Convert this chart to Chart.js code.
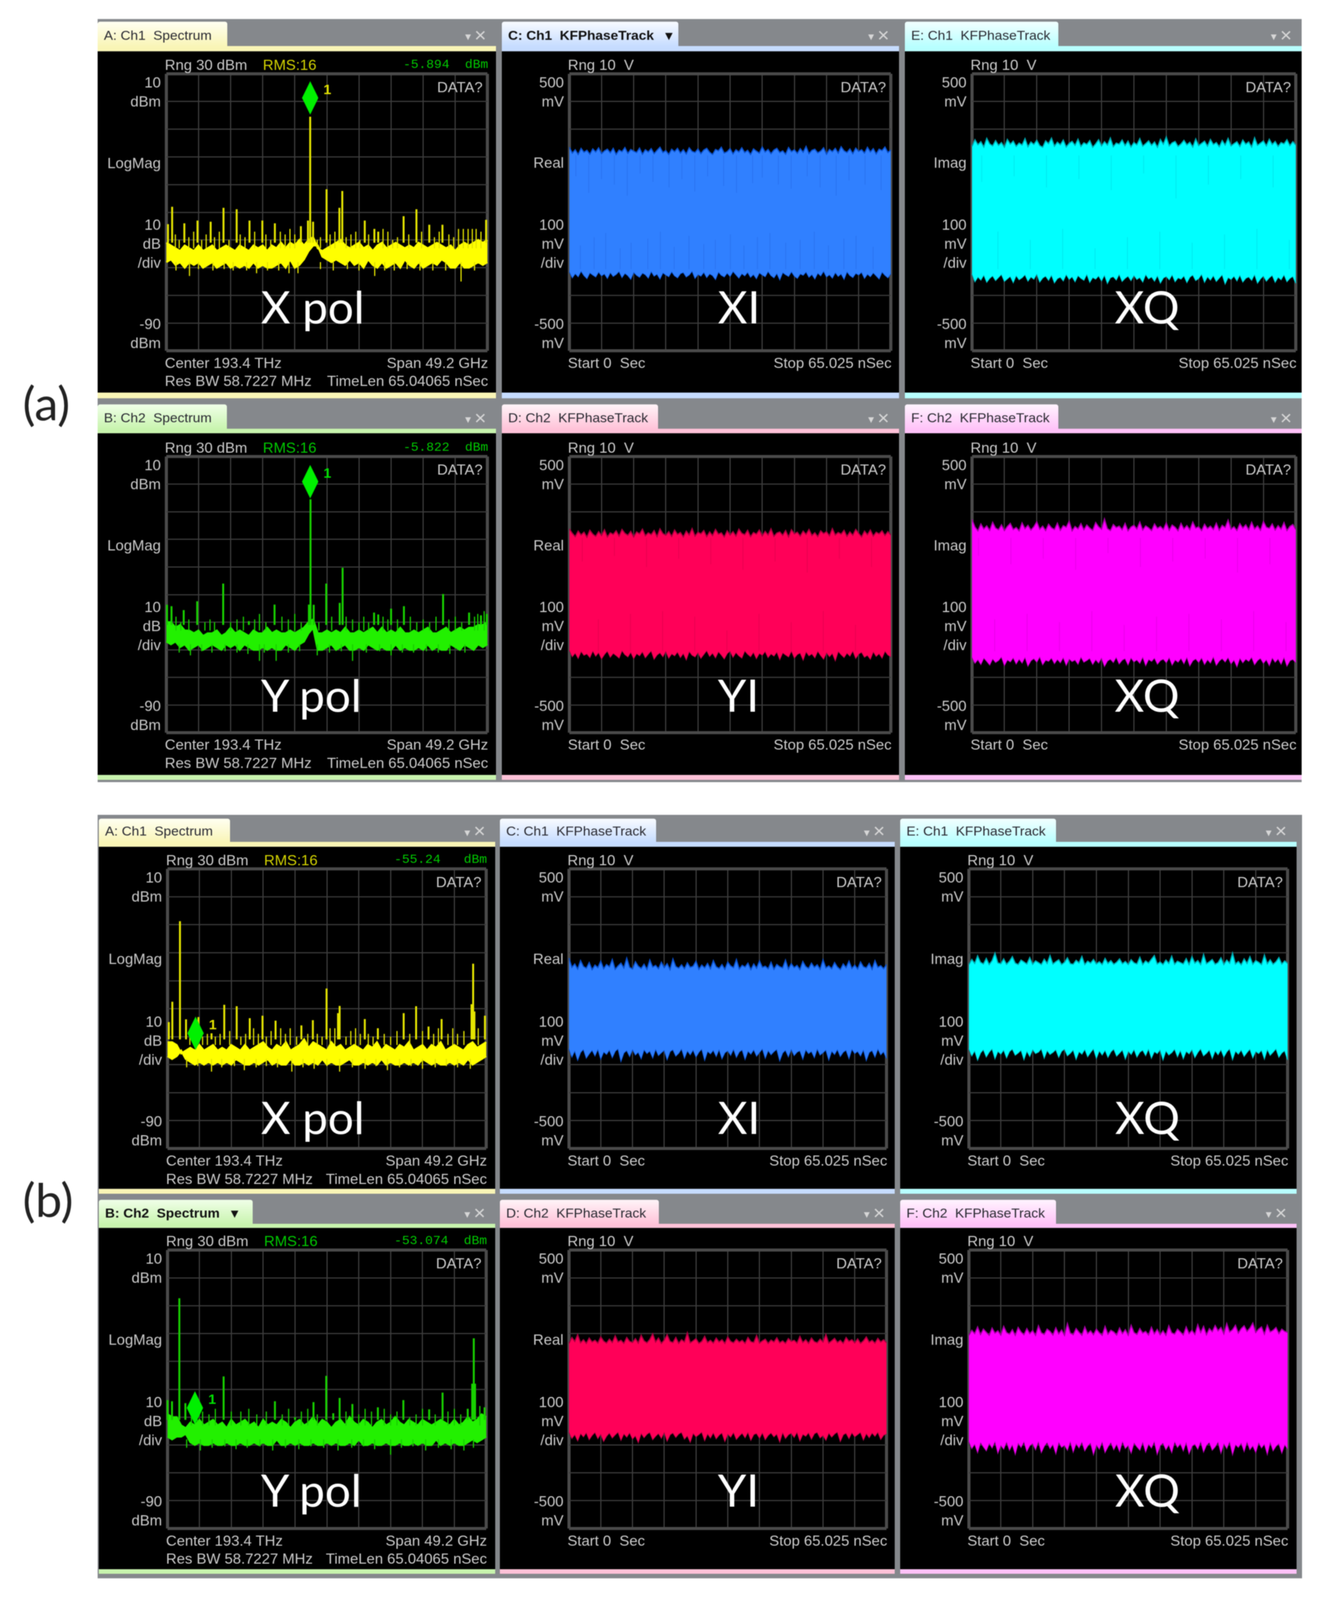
<!DOCTYPE html>
<html>
<head>
<meta charset="utf-8">
<script src="https://cdn.jsdelivr.net/npm/chart.js@4"></script>
<style>
html, body { margin: 0; padding: 0; background: #fff; overflow: hidden; }
#stage { position: relative; width: 3380px; height: 4206px; overflow: hidden; filter: blur(1.1px); font-family: "Liberation Sans", sans-serif; transform-origin: 0 0; }
#stage div, #stage span, #stage canvas { position: absolute; }
.t { white-space: pre; line-height: 1; transform: translateY(-50%); color: #c9c9c9; font-size: 38px; }
.r { transform: translate(-100%, -50%); }
.big { color: #fff; font-family: Lato, sans-serif; font-size: 117px; }
.tab { border-radius: 6px 6px 0 0; }
</style>
</head>
<body>
<div id="stage"></div>
<script>
// ---- spectrum traces, dBm: noise band edges, spikes, grass on top of the band, dips under it
const specAaHi = [-51,-52,-53,-54,-52,-53,-54,-52,-54,-53,-52,-54,-53,-52,-53,-54,-52,-53,-54,-52,-53,-52,-54,-52,-53,-51,-53,-51,-52,-50,-52,-50,-49,-53,-54,-53,-52,-51,-50,-52,-53,-52,-51,-53,-52,-54,-52,-51,-53,-52,-51,-52,-53,-52,-53,-51,-52,-53,-52,-51,-52,-53,-52,-54,-52,-51,-52,-51,-50,-51,-50];
const specAaLo = [-58,-57,-59,-58,-60,-58,-59,-58,-60,-59,-58,-60,-59,-58,-60,-59,-60,-59,-60,-58,-60,-59,-60,-60,-59,-58,-60,-57,-60,-59,-57,-54,-52,-52,-56,-57,-58,-57,-58,-59,-57,-59,-58,-60,-57,-59,-60,-58,-60,-59,-58,-60,-57,-59,-60,-58,-60,-59,-58,-59,-57,-58,-60,-60,-58,-60,-60,-59,-58,-59,-58];
const specAaPeakX = [0.5,1.8,5.6,9.7,13.8,17.8,21.9,25.9,29.9,33.8,41.9,44.1,44.8,45.7,49.9,53.9,54.8,61.8,64.8,66,73.9,77.9,81.9,86,99.6];
const specAaPeakY = [-44.3,-38,-44,-43,-43.4,-38.4,-38.9,-43,-43,-44,-45,-43,-5.5,-43.4,-31.7,-38.4,-32.3,-43,-46,-47,-41.4,-38.9,-44.5,-44.5,-42.7];
const specAaGrassX = [2.8,4,7,8.5,11,12.4,15,16.5,19.5,23,24.5,27.5,31,32.5,35.5,37,38.5,40,47,48,51,52.5,56,57.5,59,60.3,63,67.5,69,70.5,72,75.5,79.5,83.5,85,88,89.5,91,92.5,94,95.3,96.5,98];
const specAaGrassY = [-48,-50,-49,-47,-50,-48,-49,-47,-50,-48,-49,-47,-48,-50,-47,-48,-46,-48,-50,-49,-48,-47,-49,-48,-47,-50,-48,-46,-47,-50,-49,-48,-47,-49,-47,-48,-49,-46,-46,-46,-46,-46,-47];
const specAaDipX = [3,7.2,10,14.5,18,20.8,25,28.1,31.5,35,38.2,41,48,52,56.4,60,64.9,68,71,75,79,83,87,91.8,96];
const specAaDipY = [-61,-63,-60.5,-61,-60.5,-61,-61,-62,-61,-61,-62,-62,-60.5,-61,-60.5,-61,-63,-61,-61,-60.5,-61,-61,-61,-65,-61];

const specBaHi = [-50,-50,-52,-51,-53,-53,-54,-53,-55,-54,-54,-53,-55,-54,-52,-54,-53,-54,-55,-53,-54,-54,-52,-54,-53,-54,-54,-53,-54,-53,-52,-50,-49,-54,-54,-53,-54,-53,-54,-52,-54,-54,-53,-54,-53,-52,-54,-52,-54,-53,-54,-52,-54,-54,-53,-54,-53,-52,-54,-54,-53,-52,-54,-53,-52,-53,-52,-52,-51,-51,-50];
const specBaLo = [-57,-58,-57,-59,-58,-60,-59,-58,-60,-59,-58,-59,-60,-58,-59,-58,-60,-58,-59,-60,-60,-59,-60,-59,-60,-60,-58,-59,-60,-58,-57,-54,-52,-60,-60,-59,-58,-60,-59,-58,-60,-60,-59,-60,-58,-59,-60,-59,-60,-60,-58,-60,-59,-60,-60,-59,-60,-58,-60,-59,-60,-60,-58,-59,-60,-58,-59,-60,-58,-59,-58];
const specBaPeakX = [0.2,1.6,5.4,9.6,17.7,25.7,33.7,44.4,44.9,45.9,49.8,54,54.9,64.7,66,70,74,86.2,94.3,98,99.8];
const specBaPeakY = [-43.7,-44.2,-45.6,-42.4,-36,-49.6,-43.6,-43.6,-5.5,-43.7,-36,-43,-30.3,-46.5,-47.2,-45.1,-44.2,-39.8,-46.5,-47.5,-47];
const specBaGrassX = [3,4.5,7,12,13.6,15,20,22,24,27.5,29,31,36,38,40,42,47.5,51.5,56,58,60,61.5,63,67.5,69,72,76,78,80,82,84,88,90,92,96,97,99];
const specBaGrassY = [-48,-50,-49,-50,-49,-50,-50,-49,-48,-49,-47,-50,-48,-49,-47,-50,-50,-48,-48,-49,-50,-48,-50,-48,-49,-49,-48,-50,-49,-50,-48,-49,-48,-50,-48,-47,-46];
const specBaDipX = [4,7.5,11,14.2,18.3,22,25.4,29,30.5,34.2,38,41.5,47,50.8,54.5,58,62.3,66.4,70,73.5,77,81,84.7,88.3,93];
const specBaDipY = [-61,-62,-60.5,-61,-60.5,-61,-61.5,-64,-61,-64,-61,-60.5,-62,-61,-60.5,-64,-61,-60.5,-62,-61,-61,-60.5,-61,-61.5,-61];

const specAbHi = [-52,-52,-53,-56,-55,-54,-55,-53,-55,-54,-53,-55,-54,-55,-53,-54,-55,-53,-55,-54,-53,-52,-54,-55,-53,-54,-52,-55,-54,-53,-51,-54,-52,-53,-54,-55,-52,-54,-53,-55,-54,-53,-54,-55,-53,-54,-52,-55,-53,-54,-55,-53,-54,-52,-55,-54,-53,-55,-53,-54,-52,-55,-54,-53,-54,-55,-53,-52,-54,-53,-52];
const specAbLo = [-57,-58,-57,-55,-58,-59,-60,-59,-60,-59,-60,-59,-60,-59,-60,-58,-59,-60,-60,-59,-60,-59,-58,-60,-59,-60,-60,-58,-60,-60,-59,-60,-59,-60,-58,-60,-59,-60,-60,-59,-58,-60,-60,-59,-60,-59,-60,-58,-60,-59,-60,-60,-59,-60,-59,-60,-58,-59,-60,-59,-60,-60,-59,-60,-59,-60,-58,-60,-59,-58,-57];
const specAbPeakX = [0.4,1.5,3.9,5.8,9.7,13.8,17.8,21.7,25.8,29.8,33.9,42,45.6,49.9,53.5,54,61.9,66,74.1,78,81.9,86,95.4,95.9,96.3,99.6];
const specAbPeakY = [-44.8,-37.5,-8.7,-43.8,-43,-48.8,-38.6,-39.1,-43.4,-42.5,-44.3,-46,-44.1,-32.8,-41.6,-39,-43.7,-47,-41.6,-39.1,-46.4,-43.7,-38.4,-23.9,-41,-42.5];
const specAbGrassX = [7,8.2,11,12.5,15,16.5,19.5,23,24.5,27,28.5,31,32.5,35.5,37,38.5,40.5,44,47,48.5,51,52.5,56,57.5,59,60.5,63,64.5,68,70,72,76,80,83.5,85,88,89.5,91,93,97.5];
const specAbGrassY = [-50,-48,-50,-49,-50,-49,-48,-50,-49,-47,-49,-50,-48,-47,-49,-47,-50,-49,-49,-50,-47,-47,-50,-48,-47,-49,-49,-50,-49,-50,-48,-49,-48,-49,-47,-49,-47,-49,-48,-47];
const specAbDipX = [6,9.5,13.8,17,21,24.1,27.8,31,34.5,39,42.5,46,50,54,58,62,65.4,69,72.8,76.4,80,84,87.5,91,95];
const specAbDipY = [-61,-60.5,-62.5,-61,-60.5,-62,-61,-60.5,-61,-62.5,-61,-61.5,-60.5,-62.5,-61,-61.5,-60.5,-62,-61,-60.5,-61.5,-61,-60.5,-61,-61.5];

const specBbHi = [-49,-50,-50,-53,-54,-52,-53,-51,-53,-52,-51,-53,-52,-54,-51,-53,-52,-51,-53,-52,-54,-51,-53,-52,-53,-51,-52,-54,-52,-51,-53,-52,-50,-53,-51,-52,-54,-52,-51,-53,-50,-52,-53,-51,-52,-54,-52,-51,-53,-52,-50,-52,-53,-51,-52,-53,-51,-52,-53,-52,-51,-52,-53,-51,-53,-52,-50,-52,-51,-49,-50];
const specBbLo = [-57,-58,-57,-57,-56,-59,-60,-59,-60,-60,-59,-60,-60,-59,-60,-60,-59,-60,-60,-59,-60,-59,-60,-60,-58,-60,-60,-59,-60,-59,-60,-60,-59,-60,-60,-59,-60,-59,-60,-60,-59,-60,-58,-60,-60,-59,-60,-60,-59,-60,-60,-59,-60,-60,-59,-60,-59,-60,-60,-58,-60,-59,-60,-59,-60,-60,-59,-58,-59,-58,-57];
const specBbPeakX = [0,1.4,3.7,5.6,9.5,17.6,33.7,40,45.8,49.8,52,54,58,66,74,82.1,86.3,94.2,95.6,96.1,96.5,99.5];
const specBbPeakY = [-43.9,-44.3,-7.3,-45,-51.4,-35.4,-44.3,-50,-44.6,-35.2,-48.6,-43.1,-45.3,-46.5,-43.9,-47.2,-41.2,-47,-38,-21.7,-38,-46.5];
const specBbGrassX = [7.5,11,13,15,20,23,25.5,28,31,36,38,42,44,47,56,60,62,64,68,70,72,76,78,80,84,88,90,92,98];
const specBbGrassY = [-50,-48,-49,-47,-48,-48,-47,-49,-48,-49,-47,-48,-47,-49,-48,-49,-47,-48,-47,-49,-48,-50,-49,-47,-49,-48,-47,-49,-46];
const specBbDipX = [6,10.3,14,18,21.5,25,29,33,37,41.2,45,49,53.5,57.8,61.5,65,70,73.4,77,81,85,89,93,96];
const specBbDipY = [-61,-62,-61,-60.5,-61.5,-61,-60.5,-62,-61,-61.5,-60.5,-61,-62,-61,-60.5,-61.5,-63.5,-61,-60.5,-62,-61,-61.5,-62,-61];

// ---- time traces, mV: upper and lower edge of the filled envelope
const xiAHi = [235,214,226,209,231,217,224,210,229,218,233,212,222,228,215,231,209,225,219,234,213,227,221,216,232,210,226,218,230,212,224,235,216,223,209,228,219,231,214,226,211,233,220,216,229,212,225,231,217,209,227,222,235,214,219,230,211,226,218,233,216,224,209,229,221,214,236,218,227,212,225,231,216,222,210,234,219,226,213,230,217,238,212,224,228,215,221,233,210,227,219,231,214,237,222,216,229,212,232,220,226,214,235,218,230,211,228,223,236,216,225];
const xiALo = [-214,-236,-221,-232,-212,-228,-239,-218,-226,-233,-215,-229,-222,-238,-217,-231,-224,-213,-235,-220,-228,-241,-216,-227,-234,-219,-225,-237,-213,-230,-223,-240,-218,-226,-232,-214,-229,-236,-221,-217,-233,-226,-212,-238,-224,-230,-216,-235,-222,-228,-242,-215,-227,-233,-219,-231,-213,-225,-237,-221,-229,-216,-234,-224,-239,-218,-226,-232,-213,-228,-236,-220,-243,-217,-225,-231,-214,-230,-238,-222,-227,-215,-234,-224,-240,-219,-229,-212,-233,-225,-237,-217,-231,-222,-241,-214,-228,-235,-220,-226,-216,-238,-223,-232,-218,-229,-240,-215,-227,-236,-221];
const xqAHi = [238,262,244,255,236,267,247,240,259,242,252,235,263,246,257,238,250,243,266,237,254,245,260,241,235,258,248,268,239,253,244,261,236,249,256,242,264,238,251,245,259,235,247,262,240,255,243,268,237,250,246,261,241,257,236,252,244,266,239,248,258,242,254,235,263,246,272,240,251,256,238,247,260,244,253,236,265,241,249,257,239,263,245,252,237,259,243,267,240,248,255,238,261,246,254,236,269,242,250,258,240,264,245,256,238,252,247,262,241,255,243];
const xqALo = [-222,-250,-233,-244,-226,-252,-238,-229,-246,-235,-224,-249,-240,-231,-253,-228,-243,-236,-225,-248,-233,-241,-222,-251,-237,-230,-245,-226,-254,-239,-234,-247,-224,-242,-232,-250,-228,-238,-245,-223,-252,-235,-241,-229,-247,-226,-256,-236,-232,-244,-223,-249,-238,-230,-246,-227,-242,-235,-251,-224,-240,-233,-248,-228,-255,-237,-231,-243,-225,-250,-236,-241,-229,-253,-234,-226,-246,-239,-223,-252,-232,-244,-228,-249,-237,-225,-258,-235,-242,-230,-247,-226,-251,-238,-233,-245,-224,-255,-240,-229,-248,-236,-227,-252,-234,-243,-225,-250,-238,-231,-256];
const yiAHi = [238,222,210,230,216,226,208,233,219,211,228,214,235,209,224,218,231,212,236,222,215,229,209,227,220,237,213,224,217,232,210,238,221,215,228,211,234,218,225,209,230,216,239,212,226,220,232,210,227,214,236,219,224,209,231,216,228,212,237,222,217,233,210,225,219,234,213,229,216,238,211,223,227,215,232,209,235,220,226,212,230,218,236,214,224,210,231,221,228,213,239,216,225,219,233,211,227,215,236,222,209,230,217,234,212,226,220,231,214,228,216];
const yiALo = [-201,-224,-211,-230,-205,-219,-214,-227,-203,-222,-209,-232,-216,-204,-226,-212,-220,-229,-202,-217,-225,-208,-231,-213,-221,-206,-228,-215,-203,-233,-218,-210,-224,-204,-229,-214,-221,-207,-227,-212,-235,-205,-219,-225,-209,-230,-216,-202,-223,-211,-228,-206,-218,-232,-213,-204,-226,-209,-221,-229,-203,-215,-224,-208,-231,-212,-219,-205,-227,-214,-222,-207,-234,-210,-218,-225,-203,-229,-216,-211,-236,-206,-221,-214,-228,-204,-220,-233,-209,-224,-212,-238,-205,-217,-227,-211,-222,-203,-230,-215,-208,-226,-219,-233,-206,-223,-213,-229,-204,-218,-225];
const xqBHi = [272,245,231,256,238,249,233,262,241,235,253,232,247,258,236,243,231,260,239,251,234,246,264,237,248,232,255,242,236,259,233,250,244,266,231,247,238,257,235,252,241,233,261,246,237,274,239,232,254,243,248,235,258,231,245,251,238,263,234,249,242,232,256,240,247,236,260,233,252,244,231,258,238,250,235,263,241,246,232,255,239,248,236,259,233,251,243,270,237,246,232,257,241,253,235,262,238,249,233,265,244,240,256,234,250,237,261,232,247,254,236];
const xqBLo = [-226,-248,-235,-252,-229,-241,-254,-232,-245,-238,-225,-256,-236,-243,-228,-250,-233,-247,-226,-258,-239,-231,-244,-224,-253,-237,-241,-229,-249,-234,-246,-227,-255,-232,-242,-236,-251,-225,-244,-238,-230,-252,-235,-247,-228,-259,-240,-233,-245,-226,-250,-237,-231,-253,-228,-243,-236,-248,-225,-256,-234,-241,-229,-251,-238,-233,-246,-227,-254,-236,-244,-230,-249,-226,-257,-239,-232,-245,-228,-252,-235,-247,-224,-255,-240,-231,-243,-227,-250,-236,-260,-229,-246,-233,-241,-226,-253,-238,-230,-248,-235,-256,-228,-244,-232,-251,-226,-258,-239,-234,-246];

const xiBHi = [181,148,160,142,172,151,145,165,140,156,147,170,143,158,150,176,141,153,163,146,181,148,142,168,152,144,159,141,174,149,155,143,166,147,161,140,178,151,145,157,143,164,148,152,170,141,156,146,162,143,172,150,144,158,141,167,153,147,176,142,155,149,163,140,160,145,171,148,152,143,166,141,158,150,146,174,142,161,147,155,140,169,151,144,163,148,157,141,175,146,153,143,165,149,140,160,147,170,144,156,142,167,150,146,162,141,172,148,154,143,158];
const xiBLo = [-143,-172,-150,-183,-156,-145,-176,-161,-148,-168,-144,-179,-154,-163,-147,-174,-152,-143,-187,-158,-149,-170,-145,-165,-155,-178,-146,-160,-151,-175,-144,-167,-157,-148,-181,-153,-146,-169,-159,-143,-176,-150,-164,-147,-172,-155,-144,-183,-152,-161,-148,-170,-145,-178,-157,-150,-166,-144,-173,-154,-147,-180,-151,-162,-146,-169,-156,-143,-176,-149,-164,-153,-145,-185,-158,-148,-171,-144,-167,-155,-150,-179,-146,-160,-152,-174,-143,-165,-157,-147,-182,-151,-163,-145,-170,-155,-148,-177,-144,-160,-152,-168,-146,-184,-156,-149,-172,-143,-164,-153,-178];
const xqCHi = [158,176,162,189,166,160,180,158,172,199,164,161,178,159,170,186,163,158,174,167,160,183,159,171,165,158,177,162,190,160,168,175,158,166,182,161,159,173,164,187,158,170,163,176,160,168,158,180,162,172,159,166,178,161,169,158,175,164,160,184,158,171,163,177,190,160,167,158,174,162,188,159,170,165,160,179,158,186,163,172,158,194,161,168,176,159,165,182,158,174,163,199,160,169,157,178,162,186,159,172,166,158,192,161,175,159,168,183,160,171,162];
const xqCLo = [-143,-168,-150,-183,-158,-146,-172,-155,-143,-178,-152,-162,-147,-175,-153,-144,-166,-158,-148,-181,-151,-170,-145,-160,-155,-143,-176,-149,-163,-156,-146,-173,-152,-144,-168,-159,-147,-180,-153,-162,-145,-171,-156,-143,-177,-150,-165,-148,-173,-154,-144,-169,-158,-147,-179,-151,-163,-145,-172,-155,-148,-167,-143,-176,-153,-160,-146,-182,-150,-165,-157,-144,-171,-148,-178,-152,-161,-145,-174,-156,-143,-168,-159,-147,-177,-150,-164,-146,-172,-154,-143,-181,-151,-162,-147,-170,-156,-144,-175,-152,-160,-148,-179,-145,-166,-155,-143,-173,-158,-150,-183];
const yiBHi = [165,186,172,196,167,178,165,184,170,176,166,188,173,166,180,168,192,170,176,165,186,172,168,182,166,194,174,167,179,199,170,184,165,177,196,172,168,186,165,178,170,203,167,174,182,165,172,190,168,176,166,184,170,178,165,188,172,167,180,169,176,165,186,171,168,193,166,174,180,165,177,170,185,167,174,165,182,172,176,166,190,168,178,165,184,171,167,180,170,197,166,174,183,168,176,165,186,172,178,167,181,165,174,188,169,176,166,183,170,178,167];
const yiBLo = [-153,-176,-162,-184,-158,-170,-155,-180,-165,-154,-176,-160,-186,-168,-156,-174,-163,-153,-182,-159,-171,-155,-178,-166,-190,-157,-173,-161,-154,-180,-168,-158,-175,-153,-185,-163,-156,-172,-160,-154,-178,-166,-189,-157,-170,-162,-153,-183,-159,-174,-155,-177,-164,-156,-186,-160,-171,-154,-179,-167,-157,-173,-153,-182,-162,-158,-175,-155,-180,-165,-156,-170,-160,-188,-154,-176,-163,-157,-172,-153,-184,-161,-168,-155,-178,-159,-154,-174,-165,-182,-156,-171,-160,-153,-186,-163,-157,-176,-155,-170,-162,-154,-181,-158,-173,-156,-168,-153,-179,-164,-160];
const xqDHi = [194,212,200,224,197,216,205,194,220,202,210,195,226,204,198,214,194,222,206,196,218,200,211,194,228,203,197,216,208,195,221,199,213,194,236,202,196,218,205,194,224,200,210,196,216,203,194,226,198,212,206,195,220,200,214,194,230,204,197,218,202,208,195,223,199,215,196,210,194,228,203,198,216,206,195,224,200,212,197,232,204,226,196,218,207,229,210,222,199,236,206,214,230,202,218,228,208,220,238,204,216,224,198,230,206,212,222,200,216,208,204];
const xqDLo = [-186,-212,-196,-226,-190,-206,-220,-193,-210,-186,-228,-200,-214,-188,-218,-198,-232,-192,-208,-187,-222,-202,-194,-216,-186,-226,-204,-190,-212,-197,-230,-189,-208,-200,-218,-186,-224,-194,-210,-188,-220,-203,-192,-233,-198,-214,-187,-226,-206,-190,-216,-196,-222,-186,-212,-200,-228,-191,-206,-218,-188,-224,-196,-210,-186,-232,-202,-192,-216,-198,-226,-187,-208,-194,-220,-189,-230,-204,-196,-214,-186,-224,-200,-190,-218,-206,-188,-228,-194,-212,-186,-233,-198,-208,-192,-222,-187,-216,-202,-226,-190,-210,-196,-232,-188,-220,-204,-194,-228,-198,-214];

// ---- darker streaks running into the top row's bands: position and how far in they reach
const xiAStreakX = [2,3.4,6,7.7,10,11.3,14,15.8,18,19.2,22,24.4,26,28.3,31,32.6,35,37.2,39,41.8,43,45.4,48,50.1,52,54.3,57,58.5,60,62.4,65,67.3,69,71.8,74,76.2,78,80.6,83,85.4,87,89.2,92,94.5,97];
const xiAStreakY = [130,-120,70,-90,120,-75,100,-130,60,-110,140,-95,110,-70,90,-125,120,-85,75,-115,130,-100,95,-80,70,-120,105,-90,125,-75,100,-110,85,-100,130,-70,90,-120,60,-95,115,-85,100,-125,80];
const xqAStreakX = [3,8,13,18,23,28,33,38,43,48,53,58,63,68,73,78,83,88,93,98];
const xqAStreakY = [110,-70,130,-100,90,-60,120,-130,80,-90,140,-70,50,-110,100,-80,120,-60,90,-100];
const yiAStreakX = [4,9,14,19,24,29,34,39,44,49,54,59,64,69,74,79,84,89,94];
const yiAStreakY = [120,-90,140,-70,100,-60,130,-80,110,-130,90,-70,120,-100,80,-60,130,-110,100];
const xqBStreakX = [2,7,12,17,22,27,32,37,42,47,52,57,62,67,72,77,82,87,92,97];
const xqBStreakY = [140,-90,110,-70,130,-100,90,-60,150,-110,100,-80,120,-70,130,-90,80,-60,110,-100];

// ---- axis tick positions and labels
const specTickVals = [3.1, -22.6, -51.8, -84.1];
const specTickLabels = [['10', 'dBm'], ['LogMag'], ['10', 'dB', '/div'], ['-90', 'dBm']];
const timeTickVals = [431, 174.5, -118, -441];
const realTickLabels = [['500', 'mV'], ['Real'], ['100', 'mV', '/div'], ['-500', 'mV']];
const imagTickLabels = [['500', 'mV'], ['Imag'], ['100', 'mV', '/div'], ['-500', 'mV']];

// ---- marker positions
const markerX = { Aa: 44.8, Ba: 44.8, Ab: 8.8, Bb: 8.6 };
const markerY = { Aa: 1.3, Ba: 0.9, Ab: -48.8, Bb: -46.7 };

// ---- window geometry (page pixels)
const rows = {
    a1: { tab: 57, strip: 121, black: 135, top: 194, bottom: 922, end: 1032, foot: 1047, big: 806 },
    a2: { tab: 1063, strip: 1127, black: 1139, top: 1200, bottom: 1926, end: 2037, foot: 2050, big: 1826 },
    b1: { tab: 2152, strip: 2213, black: 2226, top: 2284, bottom: 3019, end: 3125, foot: 3138, big: 2936 },
    b2: { tab: 3154, strip: 3217, black: 3228, top: 3286, bottom: 4018, end: 4125, foot: 4137, big: 3916 }
};
const cols = {
    a1: { l: 250, r: 1270, pl: 426, pr: 1248, big: 668 },
    a2: { l: 1285, r: 2302, pl: 1458, pr: 2281, big: 1838 },
    a3: { l: 2317, r: 3333, pl: 2489, pr: 3318, big: 2854 },
    b1: { l: 253, r: 1268, pl: 429, pr: 1245, big: 668 },
    b2: { l: 1280, r: 2291, pl: 1457, pr: 2270, big: 1838 },
    b3: { l: 2305, r: 3320, pl: 2481, pr: 3297, big: 2855 }
};

const palette = {
    A: { tabTop: '#fffff2', tint: '#f9f5b6' },
    B: { tabTop: '#f0ffe8', tint: '#c8f4ae' },
    C: { tabTop: '#f8fbff', tint: '#c6dcff' },
    D: { tabTop: '#fff4f8', tint: '#ffc2d8' },
    E: { tabTop: '#f2ffff', tint: '#b8ffff' },
    F: { tabTop: '#fff4ff', tint: '#ffc2f8' }
};

const stage = document.getElementById('stage');
// the photographed viewport can be shorter than the window, keep the whole figure inside it
const fitY = window.innerHeight / 4206, fitX = window.innerWidth / 3380;
stage.style.transform = `scale(${fitX}, ${fitY})`;

function box(x, y, w, h, bg, cls) {
    const d = document.createElement('div');
    d.style.cssText = `left:${x}px;top:${y}px;width:${w}px;height:${h}px;background:${bg}`;
    if (cls) d.className = cls;
    stage.appendChild(d);
    return d;
}

function text(x, y, str, extra, cls) {
    const s = document.createElement('span');
    s.className = 't ' + (cls || '');
    s.textContent = str;
    s.style.cssText = `left:${x}px;top:${y}px;` + (extra || '');
    stage.appendChild(s);
    return s;
}

function band(hi, lo, color, edge, width) {
    const toPts = arr => arr.map((v, i) => ({ x: i / (arr.length - 1) * 100, y: v }));
    return [
        { data: toPts(hi), borderColor: edge, borderWidth: width, backgroundColor: color, fill: '+1', pointRadius: 0, tension: 0, clip: false },
        { data: toPts(lo), borderColor: edge, borderWidth: width, fill: false, pointRadius: 0, tension: 0, clip: false }
    ];
}

function spikes(xs, ys, from, color, width) {
    const pts = xs.flatMap((x, i) => [{ x, y: from(ys[i]) }, { x, y: ys[i] }, { x, y: null }]);
    return { data: pts, borderColor: color, borderWidth: width, pointRadius: 0, tension: 0, spanGaps: false, clip: false };
}

function diamondImage() {
    const c = document.createElement('canvas');
    c.width = 42; c.height = 88;
    const g = c.getContext('2d');
    g.fillStyle = '#00f000';
    g.beginPath(); g.moveTo(21, 0); g.lineTo(42, 44); g.lineTo(21, 88); g.lineTo(0, 44); g.closePath(); g.fill();
    return c;
}

function scope(opt) {
    const R = rows[opt.row], C = cols[opt.col], P = palette[opt.id[0]];
    const W = C.r - C.l, labelW = 170;

    // window chrome
    box(C.l, R.strip, W, R.black - R.strip, P.tint);
    box(C.l, R.tab, opt.tabRight - C.l, R.strip - R.tab + 2, `linear-gradient(${P.tabTop}, ${P.tint})`, 'tab');
    box(C.l, R.end, W, R.foot - R.end, P.tint);
    box(C.l, R.black, W, R.end - R.black, '#000');
    text(C.l + 16, R.strip - 29, opt.title, 'color:#2b2b33;font-size:35px;' + (opt.active ? 'font-weight:bold;color:#111;' : ''));
    text(C.r - 25, R.strip - 29, '×', 'color:#d6d6d6;font-size:52px;', 'r');
    text(C.r - 64, R.strip - 25, '▾', 'color:#d6d6d6;font-size:30px;', 'r');

    const cv = document.createElement('canvas');
    cv.width = W; cv.height = R.end - R.black;
    cv.style.cssText = `left:${C.l}px;top:${R.black}px`;
    stage.appendChild(cv);

    const isSpec = opt.kind === 'spec';
    const yMin = isSpec ? -90 : -500, yMax = isSpec ? 10 : 500;
    const datasets = [];
    if (isSpec) {
        datasets.push({ data: [{ x: opt.mark[0], y: opt.mark[1] }], pointStyle: diamondImage(), pointRadius: 20, showLine: false, clip: false });
        datasets.push(spikes(opt.peakX, opt.peakY, () => -51, opt.spike, 5));
        datasets.push(spikes(opt.grassX, opt.grassY, () => -53, opt.spike, 3));
        datasets.push(spikes(opt.dipX, opt.dipY, () => -58, opt.spike, 3));
    } else if (opt.streakX) {
        datasets.push(spikes(opt.streakX, opt.streakY, v => v > 0 ? 205 : -205, opt.streak, 2));
    }
    datasets.push(...band(opt.hi, opt.lo, opt.color, opt.edge, isSpec ? 5 : 3));

    const gridW = v => (v === yMin || v === yMax) ? 8 : 3;
    new Chart(cv.getContext('2d'), {
        type: 'line',
        data: { datasets },
        options: {
            responsive: false, animation: false, devicePixelRatio: 1, parsing: true,
            layout: { padding: { left: C.pl - C.l - labelW, right: C.r - C.pr, top: R.top - R.black, bottom: R.end - R.bottom } },
            plugins: { legend: { display: false }, tooltip: { enabled: false } },
            scales: {
                x: {
                    type: 'linear', min: 0, max: 100,
                    ticks: { display: false, stepSize: 10, autoSkip: false },
                    border: { display: false },
                    grid: { color: c => (c.tick.value === 0 || c.tick.value === 100) ? '#4a4a4a' : '#3c3c3c', lineWidth: c => (c.tick.value === 0 || c.tick.value === 100) ? 8 : 3, drawTicks: false },
                    afterFit: s => { s.height = 0; s.paddingLeft = s.paddingRight = 0; }
                },
                y: {
                    type: 'linear', position: 'left', min: yMin, max: yMax,
                    ticks: { display: false, stepSize: isSpec ? 10 : 100, autoSkip: false },
                    border: { display: false },
                    grid: { color: c => (c.tick.value === yMin || c.tick.value === yMax) ? '#4a4a4a' : '#3c3c3c', lineWidth: c => gridW(c.tick.value), drawTicks: false },
                    afterFit: s => { s.width = 0; s.paddingTop = s.paddingBottom = 0; }
                },
                yLab: {
                    type: 'linear', position: 'left', min: yMin, max: yMax,
                    afterBuildTicks: s => { s.ticks = opt.tickVals.map(value => ({ value })); },
                    ticks: {
                        autoSkip: false, padding: 14, color: '#c9c9c9',
                        font: { family: '"Liberation Sans", sans-serif', size: 38, lineHeight: 50 / 38 },
                        callback: (v, i) => opt.tickLabels[i]
                    },
                    border: { display: false },
                    grid: { display: false, drawTicks: false },
                    afterFit: s => { s.width = labelW; s.paddingTop = s.paddingBottom = 0; }
                }
            }
        }
    });

    // readouts around the plot
    text(C.pl - 4, R.top - 23, opt.range);
    text(C.pr - 12, R.top + 35, 'DATA?', '', 'r');
    if (isSpec) {
        const green = opt.id[0] === 'B';
        text(C.pl + 247, R.top - 23, 'RMS:16', `color:${green ? '#00c400' : '#cfcf00'}`);
        text(C.pr + 2, R.top - 24, opt.readout, 'color:#00c800;font-family:"Liberation Mono",monospace;font-size:33px;', 'r');
        text(C.pl - 4, R.bottom + 32, 'Center 193.4 THz');
        text(C.pr + 2, R.bottom + 32, 'Span 49.2 GHz', '', 'r');
        text(C.pl - 4, R.bottom + 80, 'Res BW 58.7227 MHz');
        text(C.pr + 2, R.bottom + 80, 'TimeLen 65.04065 nSec', '', 'r');
        const mx = C.pl + opt.mark[0] / 100 * (C.pr - C.pl);
        const my = R.top + (10 - opt.mark[1]) / 100 * (R.bottom - R.top);
        text(mx + 34, my - 22, '1', `font-size:36px;font-weight:bold;color:${green ? '#00e000' : '#e0e000'}`);
    } else {
        text(C.pl - 4, R.bottom + 32, 'Start 0  Sec');
        text(C.pr + 2, R.bottom + 32, 'Stop 65.025 nSec', '', 'r');
    }
    text(C.big, R.big, opt.label, '', 'big');
}

// gray backplates
box(250, 50, 3083, 2006, '#85888c');
box(250, 2142, 3084, 2007, '#85888c');

// panel labels
text(58, 1058, '(a)', 'font-family:Lato,sans-serif;font-size:122px;color:#222');
text(58, 3152, '(b)', 'font-family:Lato,sans-serif;font-size:122px;color:#222');

const yellow = { color: '#ffff00', edge: '#ffff00', spike: '#e4e400' };
const lime = { color: '#22f000', edge: '#22f000', spike: '#18d000' };
const spec = { kind: 'spec', range: 'Rng 30 dBm', tickVals: specTickVals, tickLabels: specTickLabels };
const time = { kind: 'time', range: 'Rng 10  V', tickVals: timeTickVals };
const blue = { color: '#3080ff', edge: '#0a50cc', streak: '#2a72f0' };
const cyan = { color: '#00ffff', edge: '#00a8b0', streak: '#00e8ee' };
const red = { color: '#ff0058', edge: '#a80040', streak: '#e80050' };
const pink = { color: '#ff00ff', edge: '#a000a0', streak: '#e800e8' };

scope({ ...spec, ...yellow, id: 'Aa', row: 'a1', col: 'a1', tabRight: 582, title: 'A: Ch1  Spectrum', readout: '-5.894  dBm', hi: specAaHi, lo: specAaLo, peakX: specAaPeakX, peakY: specAaPeakY, grassX: specAaGrassX, grassY: specAaGrassY, dipX: specAaDipX, dipY: specAaDipY, mark: [markerX.Aa, markerY.Aa], label: 'X pol' });
scope({ ...time, ...blue, id: 'Ca', row: 'a1', col: 'a2', tabRight: 1737, title: 'C: Ch1  KFPhaseTrack   ▾', active: true, hi: xiAHi, lo: xiALo, streakX: xiAStreakX, streakY: xiAStreakY, tickLabels: realTickLabels, label: 'XI' });
scope({ ...time, ...cyan, id: 'Ea', row: 'a1', col: 'a3', tabRight: 2710, title: 'E: Ch1  KFPhaseTrack', hi: xqAHi, lo: xqALo, streakX: xqAStreakX, streakY: xqAStreakY, tickLabels: imagTickLabels, label: 'XQ' });
scope({ ...spec, ...lime, id: 'Ba', row: 'a2', col: 'a1', tabRight: 581, title: 'B: Ch2  Spectrum', readout: '-5.822  dBm', hi: specBaHi, lo: specBaLo, peakX: specBaPeakX, peakY: specBaPeakY, grassX: specBaGrassX, grassY: specBaGrassY, dipX: specBaDipX, dipY: specBaDipY, mark: [markerX.Ba, markerY.Ba], label: 'Y pol' });
scope({ ...time, ...red, id: 'Da', row: 'a2', col: 'a2', tabRight: 1685, title: 'D: Ch2  KFPhaseTrack', hi: yiAHi, lo: yiALo, streakX: yiAStreakX, streakY: yiAStreakY, tickLabels: realTickLabels, label: 'YI' });
scope({ ...time, ...pink, id: 'Fa', row: 'a2', col: 'a3', tabRight: 2710, title: 'F: Ch2  KFPhaseTrack', hi: xqBHi, lo: xqBLo, streakX: xqBStreakX, streakY: xqBStreakY, tickLabels: imagTickLabels, label: 'XQ' });
scope({ ...spec, ...yellow, id: 'Ab', row: 'b1', col: 'b1', tabRight: 589, title: 'A: Ch1  Spectrum', readout: '-55.24   dBm', hi: specAbHi, lo: specAbLo, peakX: specAbPeakX, peakY: specAbPeakY, grassX: specAbGrassX, grassY: specAbGrassY, dipX: specAbDipX, dipY: specAbDipY, mark: [markerX.Ab, markerY.Ab], label: 'X pol' });
scope({ ...time, ...blue, id: 'Cb', row: 'b1', col: 'b2', tabRight: 1680, title: 'C: Ch1  KFPhaseTrack', hi: xiBHi, lo: xiBLo, tickLabels: realTickLabels, label: 'XI' });
scope({ ...time, ...cyan, id: 'Eb', row: 'b1', col: 'b3', tabRight: 2704, title: 'E: Ch1  KFPhaseTrack', hi: xqCHi, lo: xqCLo, tickLabels: imagTickLabels, label: 'XQ' });
scope({ ...spec, ...lime, id: 'Bb', row: 'b2', col: 'b1', tabRight: 647, title: 'B: Ch2  Spectrum   ▾', active: true, readout: '-53.074  dBm', hi: specBbHi, lo: specBbLo, peakX: specBbPeakX, peakY: specBbPeakY, grassX: specBbGrassX, grassY: specBbGrassY, dipX: specBbDipX, dipY: specBbDipY, mark: [markerX.Bb, markerY.Bb], label: 'Y pol' });
scope({ ...time, ...red, id: 'Db', row: 'b2', col: 'b2', tabRight: 1687, title: 'D: Ch2  KFPhaseTrack', hi: yiBHi, lo: yiBLo, tickLabels: realTickLabels, label: 'YI' });
scope({ ...time, ...pink, id: 'Fb', row: 'b2', col: 'b3', tabRight: 2704, title: 'F: Ch2  KFPhaseTrack', hi: xqDHi, lo: xqDLo, tickLabels: imagTickLabels, label: 'XQ' });
</script>
</body>
</html>
